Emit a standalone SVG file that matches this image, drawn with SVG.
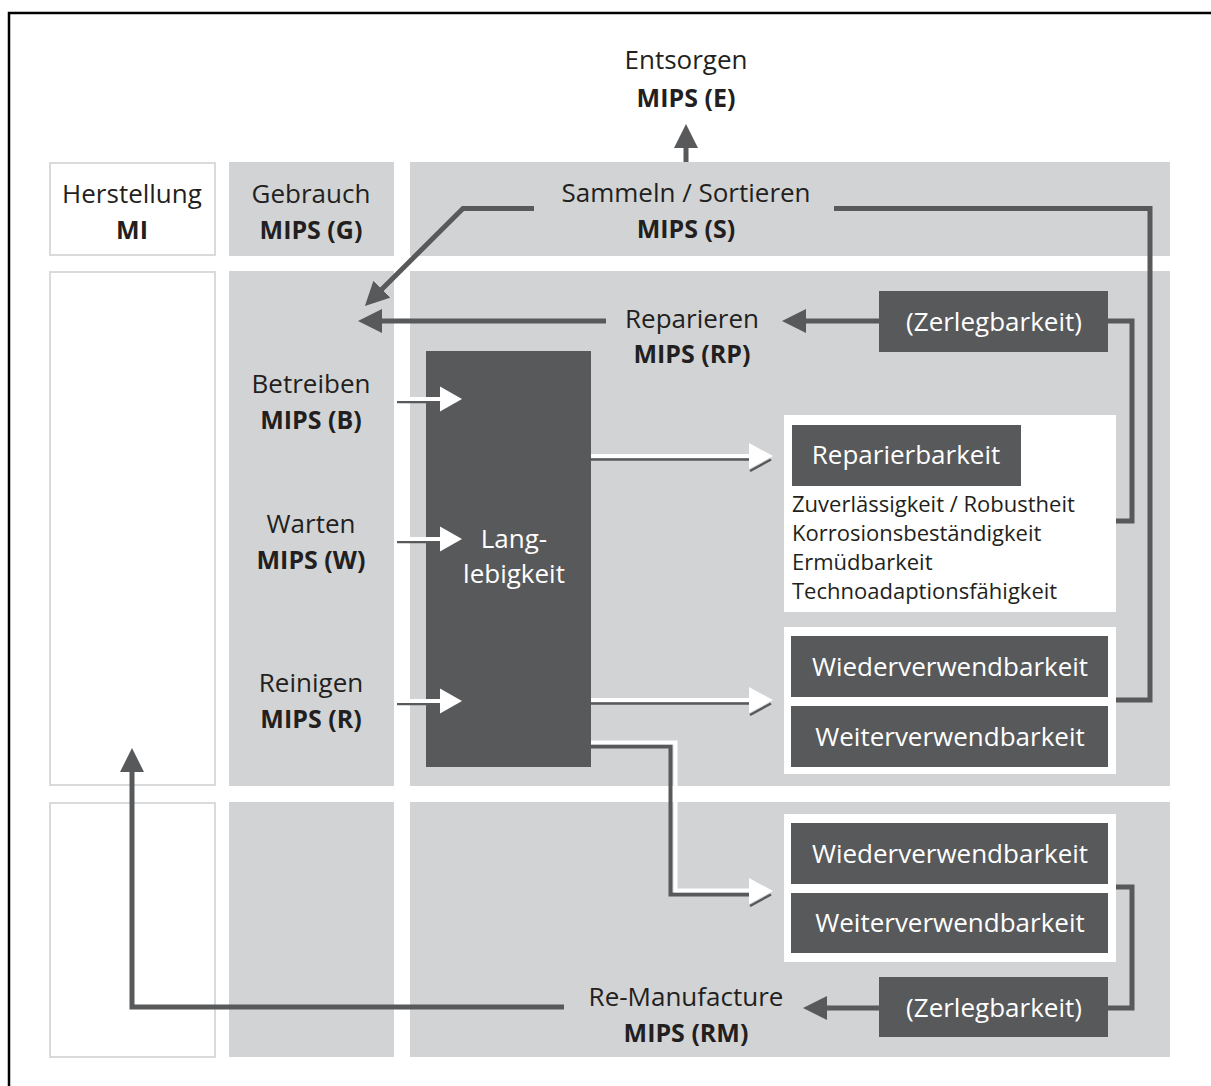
<svg xmlns="http://www.w3.org/2000/svg" width="1211" height="1086" viewBox="0 0 1211 1086">
<style>
text{font-family:"Open Sans","Liberation Sans",sans-serif;fill:#231f20;text-anchor:middle}
.r{font-size:26px}
.b{font-size:25px;font-weight:bold}
.w{fill:#ffffff;font-size:26px}
.l{font-size:22px;text-anchor:start}
.panel{fill:#d1d3d4}
.wbox{fill:#ffffff;stroke:#d9dadb;stroke-width:2}
.dark{fill:#58595b}
.con{fill:none;stroke:#58595b;stroke-width:5;stroke-linejoin:miter}
.sh{fill:none;stroke:#58595b;stroke-width:2.5}
.wl{fill:none;stroke:#ffffff;stroke-width:4}
.wh{fill:#ffffff}
</style>
<defs>
<marker id="ah" markerUnits="userSpaceOnUse" markerWidth="24" markerHeight="24" refX="4" refY="12" orient="auto" viewBox="0 0 24 24"><path d="M0,0 L24,12 L0,24 z" fill="#58595b"/></marker>
</defs>
<rect width="1211" height="1086" fill="#ffffff"/>
<path d="M9,1086 V13 H1211" fill="none" stroke="#000000" stroke-width="2.5"/>

<g id="entsorgen"><text class="r" x="686" y="69">Entsorgen</text><text class="b" x="686" y="107">MIPS (E)</text></g>

<g id="herstellung"><rect class="wbox" x="50" y="163" width="165" height="92"/><text class="r" x="132" y="203">Herstellung</text><text class="b" x="132" y="239">MI</text></g>
<g id="gebrauch"><rect class="panel" x="229" y="162" width="165" height="94"/><text class="r" x="311" y="203">Gebrauch</text><text class="b" x="311" y="239">MIPS (G)</text></g>
<g id="sammeln"><rect class="panel" x="410" y="162" width="760" height="94"/><text class="r" x="686" y="202">Sammeln / Sortieren</text><text class="b" x="686" y="238">MIPS (S)</text></g>

<g id="col1-row2"><rect class="wbox" x="50" y="272" width="165" height="513"/></g>
<g id="col2-row2"><rect class="panel" x="229" y="271" width="165" height="515"/></g>
<g id="col3-row2"><rect class="panel" x="410" y="271" width="760" height="515"/></g>
<g id="col1-row3"><rect class="wbox" x="50" y="803" width="165" height="254"/></g>
<g id="col2-row3"><rect class="panel" x="229" y="802" width="165" height="255"/></g>
<g id="col3-row3"><rect class="panel" x="410" y="802" width="760" height="255"/></g>

<g id="reparieren"><text class="r" x="692" y="328">Reparieren</text><text class="b" x="692" y="363">MIPS (RP)</text></g>
<g id="betreiben"><text class="r" x="311" y="393">Betreiben</text><text class="b" x="311" y="429">MIPS (B)</text></g>
<g id="warten"><text class="r" x="311" y="533">Warten</text><text class="b" x="311" y="569">MIPS (W)</text></g>
<g id="reinigen"><text class="r" x="311" y="692">Reinigen</text><text class="b" x="311" y="728">MIPS (R)</text></g>

<g id="langlebigkeit"><rect class="dark" x="426" y="351" width="165" height="416"/><text class="w" x="514" y="548">Lang-</text><text class="w" x="514" y="583">lebigkeit</text></g>

<g id="zerleg-top"><rect class="dark" x="879" y="291" width="229" height="61"/><text class="w" x="994" y="331">(Zerlegbarkeit)</text></g>

<g id="reparierbarkeit"><rect fill="#ffffff" x="784" y="415" width="332" height="197"/><rect class="dark" x="792" y="425" width="229" height="61"/><text class="w" x="906" y="464">Reparierbarkeit</text>
<text class="l" x="792" y="512">Zuverlässigkeit / Robustheit</text>
<text class="l" x="792" y="541">Korrosionsbeständigkeit</text>
<text class="l" x="792" y="570">Ermüdbarkeit</text>
<text class="l" x="792" y="599">Technoadaptionsfähigkeit</text></g>

<g id="verwend-row2"><rect fill="#ffffff" x="784" y="627" width="332" height="147"/><rect class="dark" x="791" y="636" width="317" height="61"/><text class="w" x="950" y="676">Wiederverwendbarkeit</text><rect class="dark" x="791" y="706" width="317" height="61"/><text class="w" x="950" y="746">Weiterverwendbarkeit</text></g>

<g id="verwend-row3"><rect fill="#ffffff" x="784" y="814" width="332" height="148"/><rect class="dark" x="791" y="823" width="317" height="61"/><text class="w" x="950" y="863">Wiederverwendbarkeit</text><rect class="dark" x="791" y="893" width="317" height="60"/><text class="w" x="950" y="932">Weiterverwendbarkeit</text></g>

<g id="zerleg-bottom"><rect class="dark" x="879" y="977" width="229" height="60"/><text class="w" x="994" y="1017">(Zerlegbarkeit)</text></g>

<g id="remanufacture"><text class="r" x="686" y="1006">Re-Manufacture</text><text class="b" x="686" y="1042">MIPS (RM)</text></g>

<g id="connectors">
<path class="con" d="M686,162 V144" marker-end="url(#ah)"/>
<path class="con" d="M534,208.5 H463 L379.1,291.9" marker-end="url(#ah)"/>
<path class="con" d="M834,208.5 H1150 V700 H1116"/>
<path class="con" d="M606,321 H378" marker-end="url(#ah)"/>
<path class="con" d="M879,321 H802" marker-end="url(#ah)"/>
<path class="con" d="M1108,321 H1132 V521 H1116"/>
<path class="con" d="M1116,887 H1132 V1008 H1108"/>
<path class="con" d="M879,1008 H823" marker-end="url(#ah)"/>
<path class="con" d="M564,1007 H132 V768" marker-end="url(#ah)"/>

<path class="sh" d="M397,402 H440"/><path class="wl" d="M397,399 H442"/><polygon class="wh" points="440,386.5 462,399 440,411.5"/>
<path class="sh" d="M397,542 H440"/><path class="wl" d="M397,539 H442"/><polygon class="wh" points="440,526.5 462,539 440,551.5"/>
<path class="sh" d="M397,704 H440"/><path class="wl" d="M397,701 H442"/><polygon class="wh" points="440,688.5 462,701 440,713.5"/>

<path class="sh" d="M591,459.5 H750"/><path class="wl" d="M591,456 H752"/><polygon class="wh" points="749,443 773,456 749,469"/><path class="sh" d="M750,471 L771,459.5"/>
<path class="sh" d="M591,703.5 H750"/><path class="wl" d="M591,700 H752"/><polygon class="wh" points="749,687 773,700 749,713"/><path class="sh" d="M750,715 L771,703.5"/>
<path class="con" style="stroke-width:4" d="M591,746.5 H670.5 V894.5 H750"/><path class="wl" d="M591,742.5 H675.5 V890.5 H752"/><polygon class="wh" points="749,878 773,891 749,904"/><path class="sh" d="M750,906 L771,894.5"/>
</g>
</svg>
